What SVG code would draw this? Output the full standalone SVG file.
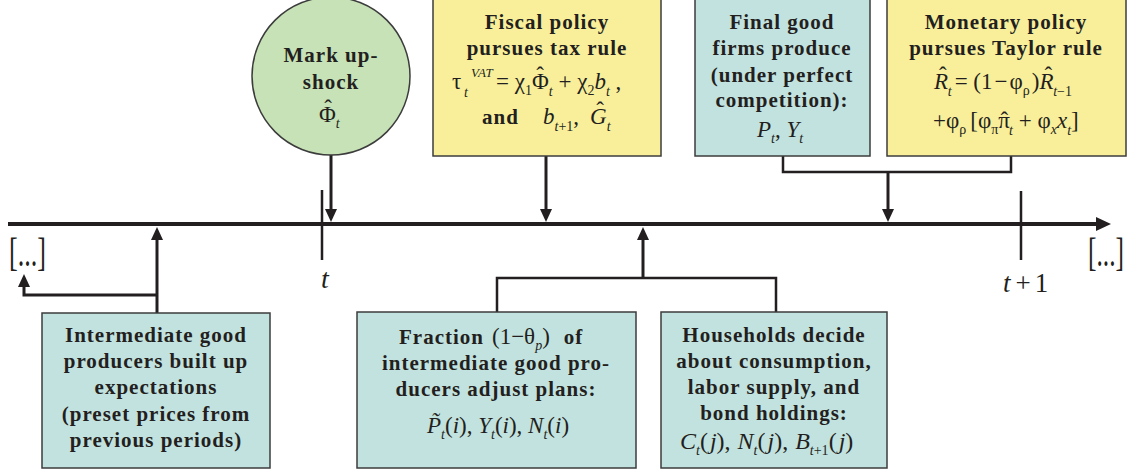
<svg xmlns="http://www.w3.org/2000/svg" width="1131" height="475" viewBox="0 0 1131 475">
<style>
text{font-family:"Liberation Serif","Times New Roman",serif;fill:#231f20}
.b{font-weight:bold;font-size:21px;letter-spacing:1px}
.m{font-size:23px}
.i{font-style:italic}
.s{font-size:14px}
.teal{fill:#c2e2df;stroke:#3c3c3c;stroke-width:1.5}
.yellow{fill:#f9ef9a;stroke:#3c3c3c;stroke-width:1.5}
.green{fill:#c6e2b6;stroke:#3c3c3c;stroke-width:1.5}
.arr{stroke:#231f20;stroke-width:3;fill:none;marker-end:url(#ah)}
.br{stroke:#231f20;stroke-width:2.5;fill:none}
</style>
<defs>
<marker id="ah" markerUnits="userSpaceOnUse" markerWidth="14" markerHeight="12" refX="7" refY="6" orient="auto">
<path d="M0,0 L13,6 L0,12 z" fill="#231f20"/>
</marker>
<marker id="ahx" markerUnits="userSpaceOnUse" markerWidth="16" markerHeight="14" refX="6" refY="7" orient="auto">
<path d="M0,0 L15,7 L0,14 z" fill="#231f20"/>
</marker>
</defs>

<g id="axis">
<path d="M8,224 H1102" stroke="#231f20" stroke-width="4" fill="none" marker-end="url(#ahx)"/>
<path d="M322,190 V260 M1021,191 V260" class="br"/>
<text class="i" x="325" y="288" text-anchor="middle" style="font-size:28px">t</text>
<text x="1003" y="292" style="font-size:27px"><tspan class="i">t</tspan><tspan dx="5">+</tspan><tspan dx="4">1</tspan></text>
<text x="9" y="266" style="font-size:40px" textLength="37" lengthAdjust="spacingAndGlyphs">[...]</text>
<text x="1088" y="266" style="font-size:40px" textLength="36" lengthAdjust="spacingAndGlyphs">[...]</text>
</g>

<g id="connectors">
<path d="M331,155 V216" class="arr"/>
<path d="M546,156 V216" class="arr"/>
<path d="M783,156 V172 H1011 V156" class="br"/>
<path d="M888,172 V216" class="arr"/>
<path d="M157,313 V233" class="arr"/>
<path d="M157,295 H24 V280" class="arr"/>
<path d="M497,312 V278 H776 V312" class="br"/>
<path d="M643,278 V233" class="arr"/>
</g>

<g id="markup-shock">
<circle cx="331" cy="76" r="79" class="green"/>
<text class="b" x="331" y="62" text-anchor="middle">Mark up-</text>
<text class="b" x="331" y="89" text-anchor="middle">shock</text>
<text class="m" x="319" y="122">Φ<tspan class="s i" dy="6">t</tspan></text>
<text class="m" x="328" y="116" text-anchor="middle">ˆ</text>
</g>

<g id="fiscal-policy">
<rect x="433" y="-5" width="228" height="161" class="yellow"/>
<text class="b" x="547" y="29" text-anchor="middle">Fiscal policy</text>
<text class="b" x="547" y="55" text-anchor="middle">pursues tax rule</text>
<text class="m" y="89"><tspan x="452">τ</tspan><tspan x="464" y="97" class="s i">t</tspan><tspan x="471" y="77" class="s i" style="font-size:13px">VAT</tspan><tspan x="496" y="89">= χ</tspan><tspan class="s" dy="6">1</tspan><tspan dy="-6">Φ</tspan><tspan dx="-12.6" dy="-6">ˆ</tspan><tspan class="s i" dx="5" dy="13">t</tspan><tspan dy="-7"> + χ</tspan><tspan class="s" dy="6">2</tspan><tspan dy="-6" class="i">b</tspan><tspan class="s i" dy="7">t</tspan><tspan dy="-7"> ,</tspan></text>
<text class="m" y="124"><tspan x="482" class="b">and</tspan><tspan x="543" class="i">b</tspan><tspan class="s" dy="7"><tspan class="i">t</tspan>+1</tspan><tspan dy="-7">, </tspan><tspan class="i" x="590">G</tspan><tspan dx="-10.5" dy="-6">ˆ</tspan><tspan class="s i" dx="3" dy="13">t</tspan></text>
</g>

<g id="final-good">
<rect x="695" y="-5" width="175" height="161" class="teal"/>
<text class="b" x="782" y="29" text-anchor="middle">Final good</text>
<text class="b" x="782" y="55" text-anchor="middle">firms produce</text>
<text class="b" x="782" y="82" text-anchor="middle">(under perfect</text>
<text class="b" x="782" y="107" text-anchor="middle">competition):</text>
<text class="m" x="757" y="137"><tspan class="i">P</tspan><tspan class="s i" dy="6">t</tspan><tspan dy="-6">,  </tspan><tspan class="i">Y</tspan><tspan class="s i" dy="6">t</tspan></text>
</g>

<g id="monetary-policy">
<rect x="887" y="-5" width="239" height="161" class="yellow"/>
<text class="b" x="1006" y="29" text-anchor="middle">Monetary policy</text>
<text class="b" x="1006" y="55" text-anchor="middle">pursues Taylor rule</text>
<text class="m" y="89"><tspan x="934" class="i">R</tspan><tspan dx="-9" dy="-6">ˆ</tspan><tspan class="s i" dx="1" dy="13">t</tspan><tspan dy="-7" dx="3">= (1</tspan><tspan dx="2">−</tspan><tspan dx="2">φ</tspan><tspan class="s" dy="6">ρ</tspan><tspan dy="-6" dx="2">)</tspan><tspan class="i">R</tspan><tspan dx="-9" dy="-6">ˆ</tspan><tspan class="s" dx="1" dy="13"><tspan class="i">t</tspan>−1</tspan></text>
<text class="m" y="128"><tspan x="933">+φ</tspan><tspan class="s" dy="6">ρ</tspan><tspan dy="-6" dx="4">[φ</tspan><tspan class="s" dy="6">π</tspan><tspan dy="-6">π</tspan><tspan dx="-9.5">ˆ</tspan><tspan class="s i" dx="1" dy="7">t</tspan><tspan dy="-7"> + φ</tspan><tspan class="s i" dy="6">x</tspan><tspan dy="-6" class="i">x</tspan><tspan class="s i" dy="7">t</tspan><tspan dy="-7">]</tspan></text>
</g>

<g id="intermediate-expectations">
<rect x="42" y="313" width="228" height="155" class="teal"/>
<text class="b" x="156" y="342" text-anchor="middle">Intermediate good</text>
<text class="b" x="156" y="368" text-anchor="middle">producers built up</text>
<text class="b" x="156" y="394" text-anchor="middle">expectations</text>
<text class="b" x="156" y="421" text-anchor="middle">(preset prices from</text>
<text class="b" x="156" y="447" text-anchor="middle">previous periods)</text>
</g>

<g id="fraction-adjust">
<rect x="357" y="312" width="279" height="156" class="teal"/>
<text class="m" x="399" y="344"><tspan class="b">Fraction</tspan><tspan dx="8">(1−θ</tspan><tspan class="s i" dy="6">p</tspan><tspan dy="-6">)</tspan><tspan class="b" dx="14">of</tspan></text>
<text class="b" x="496" y="370" text-anchor="middle">intermediate good pro-</text>
<text class="b" x="496" y="396" text-anchor="middle">ducers adjust plans:</text>
<text class="m" x="427" y="433"><tspan class="i">P̃</tspan><tspan class="s i" dy="6">t</tspan><tspan dy="-6">(<tspan class="i">i</tspan>),  </tspan><tspan class="i">Y</tspan><tspan class="s i" dy="6">t</tspan><tspan dy="-6">(<tspan class="i">i</tspan>), </tspan><tspan class="i">N</tspan><tspan class="s i" dy="6">t</tspan><tspan dy="-6">(<tspan class="i">i</tspan>)</tspan></text>
</g>

<g id="households">
<rect x="661" y="312" width="226" height="156" class="teal"/>
<text class="b" x="774" y="342" text-anchor="middle">Households decide</text>
<text class="b" x="774" y="368" text-anchor="middle">about consumption,</text>
<text class="b" x="774" y="394" text-anchor="middle">labor supply, and</text>
<text class="b" x="774" y="420" text-anchor="middle">bond holdings:</text>
<text class="m" x="680" y="449" style="font-size:24px"><tspan class="i">C</tspan><tspan class="s i" dy="6">t</tspan><tspan dy="-6">(<tspan class="i" dx="2">j</tspan>),</tspan><tspan class="i" dx="7">N</tspan><tspan class="s i" dy="6">t</tspan><tspan dy="-6">(<tspan class="i" dx="2">j</tspan>),</tspan><tspan class="i" dx="7">B</tspan><tspan class="s" dy="6"><tspan class="i">t</tspan>+1</tspan><tspan dy="-6">(<tspan class="i" dx="2">j</tspan>)</tspan></text>
</g>
</svg>
